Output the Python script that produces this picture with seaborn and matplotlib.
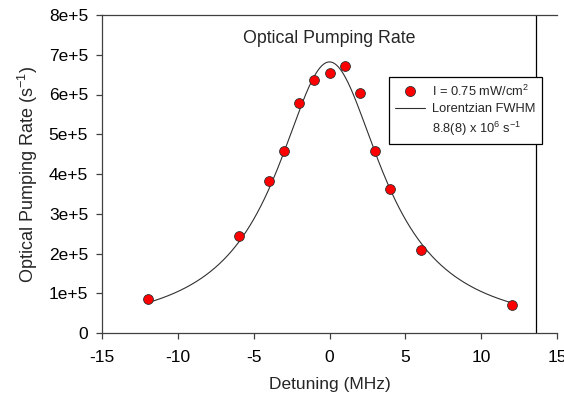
import numpy as np
import pandas as pd
import matplotlib
matplotlib.use("Agg")
import matplotlib.pyplot as plt
from matplotlib.lines import Line2D
import seaborn as sns

# Data
detuning = [-12, -6, -4, -3, -2, -1, 0, 1, 2, 3, 4, 6, 12]
rate = [85500, 243000, 382000, 458000, 579000, 636000, 653000, 671000, 605000, 457000, 362000, 209000, 71000]

fit_amplitude = 682000
fit_center = 0.0
fit_fwhm = 8.5
fit_range = [-12, 12]

x_ticks = [-15, -10, -5, 0, 5, 10, 15]
y_ticks = [0, 100000, 200000, 300000, 400000, 500000, 600000, 700000, 800000]
y_tick_labels = ["0", "1e+5", "2e+5", "3e+5", "4e+5", "5e+5", "6e+5", "7e+5", "8e+5"]
legend_labels = ["I = 0.75 mW/cm$^2$", "Lorentzian FWHM", "8.8(8) x 10$^6$ s$^{-1}$"]
marker_line_x = 13.6

sns.set_theme(style="ticks")
plt.rcParams["font.family"] = ["Liberation Sans", "DejaVu Sans"]
plt.rcParams["mathtext.fontset"] = "custom"
plt.rcParams["mathtext.rm"] = "Liberation Sans"
plt.rcParams["mathtext.it"] = "Liberation Sans:italic"
plt.rcParams["mathtext.bf"] = "Liberation Sans:bold"

fig = plt.figure(figsize=(5.64, 3.98), dpi=100)
ax = fig.add_axes([102 / 564, 1 - 333 / 398, (557 - 102) / 564, (333 - 15) / 398])

df = pd.DataFrame({"Detuning": detuning, "Rate": rate})
xf = np.linspace(fit_range[0], fit_range[1], 400)
yf = fit_amplitude / (1 + (2 * (xf - fit_center) / fit_fwhm) ** 2)
fit_df = pd.DataFrame({"Detuning": xf, "Rate": yf})

sns.lineplot(data=fit_df, x="Detuning", y="Rate", ax=ax, color="#303030", lw=0.8,
             legend=False, zorder=2)
sns.scatterplot(data=df, x="Detuning", y="Rate", ax=ax, color="#ff0000", edgecolor="#303030",
                linewidth=0.6, s=50, legend=False, zorder=3)

ax.axvline(marker_line_x, color="black", lw=0.9, zorder=1)

ax.set_xlim(-15, 15)
ax.set_ylim(0, 800000)
ax.set_xticks(x_ticks)
ax.set_xticklabels([str(t) for t in x_ticks])
ax.set_yticks(y_ticks)
ax.set_yticklabels(y_tick_labels)

for side in ["left", "bottom", "top"]:
    ax.spines[side].set_color("#404040")
    ax.spines[side].set_linewidth(0.9)
ax.spines["right"].set_visible(False)
ax.tick_params(axis="both", direction="out", length=4, width=0.9, color="#404040",
               labelsize=12.5, labelcolor="black")
ax.tick_params(axis="x", pad=8)
ax.tick_params(axis="y", pad=6)
ax.tick_params(top=False, right=False)

ax.set_xlabel("Detuning (MHz)", fontsize=12.5, labelpad=9)
ax.set_ylabel("Optical Pumping Rate (s$^{-1}$)", fontsize=13, labelpad=6)

ax.text(0, 740000, "Optical Pumping Rate", fontsize=12.8, ha="center", va="center")

h_pts = Line2D([], [], ls="none", marker="o", markersize=7.2, markerfacecolor="#ff0000",
               markeredgecolor="#303030", markeredgewidth=0.6)
h_fit = Line2D([], [], color="#303030", lw=0.8)
h_blank = Line2D([], [], color="none", lw=0)
leg = ax.legend([h_pts, h_fit, h_blank], legend_labels,
                loc="upper left", bbox_to_anchor=(389 / 564, 1 - 77 / 398),
                bbox_transform=fig.transFigure, borderaxespad=0, frameon=True,
                fancybox=False, edgecolor="black", framealpha=1, fontsize=9.3,
                handlelength=2.3, handletextpad=0.55, borderpad=0.5, labelspacing=0.35)
leg.get_frame().set_linewidth(0.9)
leg.set_zorder(5)

fig.savefig("out.png", dpi=100)
